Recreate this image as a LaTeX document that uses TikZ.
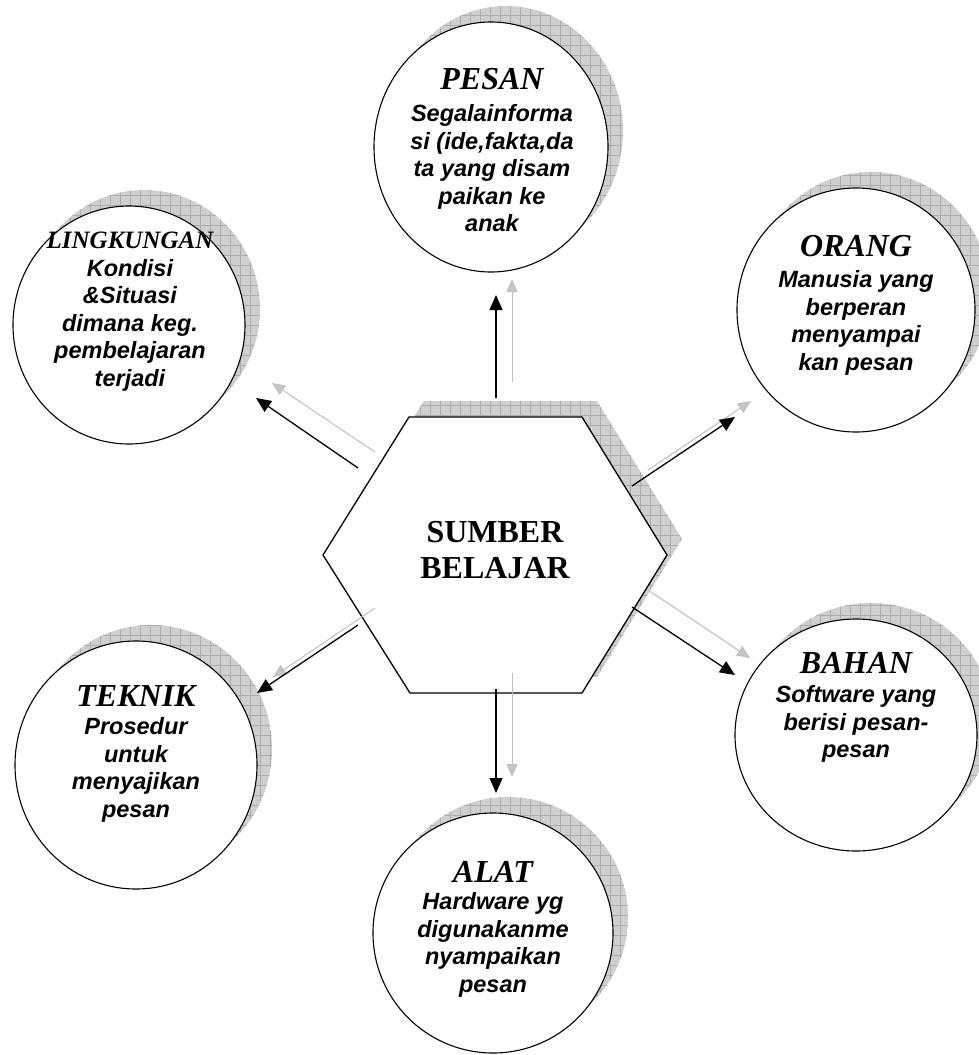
\documentclass[tikz,border=0pt]{standalone}
\usepackage{fontspec}
\setmainfont{Liberation Serif}
\newfontfamily\arialf{Liberation Sans}
\usetikzlibrary{arrows.meta,patterns.meta,shapes.geometric}
\newcommand\ctitle[2][32]{{\rmfamily\bfseries\itshape\fontsize{#1}{#1}\selectfont #2}}
\tikzset{
  bubble/.style={ellipse, draw=black, line width=1.1pt, fill=white, inner sep=0pt},
  bubbleshade/.style={ellipse, draw=none, fill=gray!38, inner sep=0pt,
    postaction={pattern={Hatch[angle=0,distance=10pt,line width=0.3pt]}, pattern color=gray!65}},
  hexshade/.style={draw=none, fill=gray!38,
    postaction={pattern={Hatch[angle=0,distance=10pt,line width=0.3pt]}, pattern color=gray!65}},
  lbl/.style={anchor=north, align=center, inner sep=0pt,
    font=\arialf\bfseries\itshape\fontsize{23.5}{27.5}\selectfont},
  blackarrow/.style={draw=black, line width=1.3pt, -{Triangle[length=15pt,width=13pt]}},
  greyarrow/.style={draw=gray!50, line width=1pt, -{Triangle[length=13pt,width=11pt,fill=gray!45]}}
}
\begin{document}
\begin{tikzpicture}[x=1pt,y=-1pt]
\useasboundingbox (0,0) rectangle (978,1055);

% shadows of circles
\begin{scope}[shift={(15,-16)}]
\node[bubbleshade, minimum width=234pt, minimum height=250pt] (pesan-s) at (491,147) {};
\node[bubbleshade, minimum width=238pt, minimum height=244pt] (orang-s) at (856,310) {};
\node[bubbleshade, minimum width=232pt, minimum height=238pt] (ling-s) at (129,325) {};
\node[bubbleshade, minimum width=242pt, minimum height=248pt] (teknik-s) at (136,765) {};
\node[bubbleshade, minimum width=240pt, minimum height=240pt] (alat-s) at (493,933) {};
\node[bubbleshade, minimum width=242pt, minimum height=232pt] (bahan-s) at (856,735) {};
\fill[hexshade] (323,555) -- (409,417) -- (582,417) -- (667,555) -- (582,693) -- (410,693) -- cycle;
\end{scope}

% hexagon
\filldraw[fill=white, draw=black, line width=1.3pt] (323,555) -- (409,417) -- (582,417) -- (667,555) -- (582,693) -- (410,693) -- cycle;
\node[anchor=north, align=center, inner sep=0pt, font=\rmfamily\bfseries\fontsize{32}{36}\selectfont] (sb) at (495,521) {SUMBER\\BELAJAR};

% circles
\node[bubble, minimum width=234pt, minimum height=250pt] (pesan) at (491,147) {};
\node[bubble, minimum width=238pt, minimum height=244pt] (orang) at (856,310) {};
\node[bubble, minimum width=232pt, minimum height=238pt] (ling) at (129,325) {};
\node[bubble, minimum width=242pt, minimum height=248pt] (teknik) at (136,765) {};
\node[bubble, minimum width=240pt, minimum height=240pt] (alat) at (493,933) {};
\node[bubble, minimum width=242pt, minimum height=232pt] (bahan) at (856,735) {};

% texts
\node[lbl] (pesan-t) at (492,68)
  {\ctitle{PESAN}\\[5pt]Segalainforma\\si (ide,fakta,da\\ta yang disam\\paikan ke\\anak};
\node[lbl] (orang-t) at (856,235)
  {\ctitle{ORANG}\\[4pt]Manusia yang\\berperan\\menyampai\\kan pesan};
\node[lbl] (ling-t) at (130,232)
  {\ctitle[25]{LINGKUNGAN}\\[0pt]Kondisi\\\&Situasi\\dimana keg.\\pembelajaran\\terjadi};
\node[lbl] (teknik-t) at (136,685)
  {\ctitle{TEKNIK}\\[1pt]Prosedur\\untuk\\menyajikan\\pesan};
\node[lbl] (alat-t) at (493,861)
  {\ctitle{ALAT}\\[0pt]Hardware yg\\digunakanme\\nyampaikan\\pesan};
\node[lbl] (bahan-t) at (856,652)
  {\ctitle{BAHAN}\\[2pt]Software yang\\berisi pesan-\\pesan};

% arrow end points
\coordinate (up-b0) at (496,398); \coordinate (up-b1) at (496,295);
\coordinate (up-g0) at (512,382); \coordinate (up-g1) at (512,279);
\coordinate (dn-b0) at (496,689); \coordinate (dn-b1) at (496,793);
\coordinate (dn-g0) at (512,673); \coordinate (dn-g1) at (512,777);
\coordinate (ul-b0) at (358,468); \coordinate (ul-b1) at (256,398);
\coordinate (ul-g0) at (375,452); \coordinate (ul-g1) at (272,383);
\coordinate (ur-b0) at (632,486); \coordinate (ur-b1) at (735,417);
\coordinate (ur-g0) at (648,470); \coordinate (ur-g1) at (751,401);
\coordinate (lr-b0) at (632,607); \coordinate (lr-b1) at (735,675);
\coordinate (lr-g0) at (648,590); \coordinate (lr-g1) at (750,658);
\coordinate (ll-b0) at (358,625); \coordinate (ll-b1) at (257,693);
\coordinate (ll-g0) at (375,608); \coordinate (ll-g1) at (273,677);

% grey arrows
\draw[greyarrow] (up-g0) -- (up-g1);
\draw[greyarrow] (dn-g0) -- (dn-g1);
\draw[greyarrow] (ul-g0) -- (ul-g1);
\draw[greyarrow] (ur-g0) -- (ur-g1);
\draw[greyarrow] (lr-g0) -- (lr-g1);
\draw[greyarrow] (ll-g0) -- (ll-g1);
% black arrows
\draw[blackarrow] (up-b0) -- (up-b1);
\draw[blackarrow] (dn-b0) -- (dn-b1);
\draw[blackarrow] (ul-b0) -- (ul-b1);
\draw[blackarrow] (ur-b0) -- (ur-b1);
\draw[blackarrow] (lr-b0) -- (lr-b1);
\draw[blackarrow] (ll-b0) -- (ll-b1);
\end{tikzpicture}
\end{document}
